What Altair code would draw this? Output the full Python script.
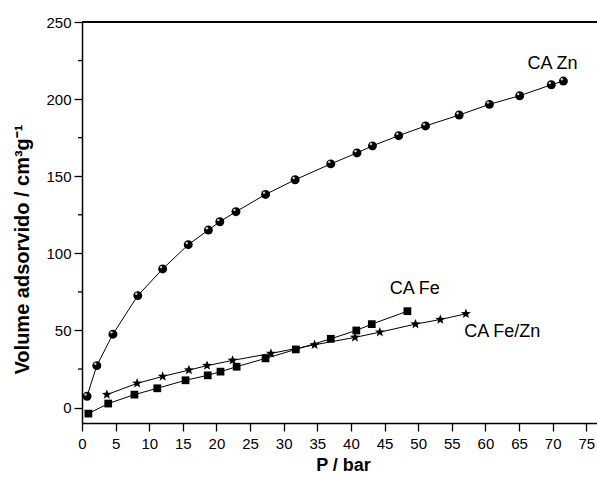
import altair as alt
import pandas as pd

zn_p = [0.75, 2.2, 4.6, 8.3, 12.0, 15.8, 18.8, 20.5, 22.9, 27.3, 31.7, 37.0, 40.9, 43.2, 47.1, 51.1, 56.1, 60.6, 65.1, 69.8, 71.6]
zn_v = [7.3, 27.2, 47.6, 72.6, 89.9, 105.6, 115.1, 120.5, 127.0, 138.2, 147.7, 158.0, 165.1, 169.7, 176.3, 182.6, 189.7, 196.6, 202.2, 209.3, 211.7]

fe_p = [0.95, 3.9, 7.8, 11.2, 15.4, 18.7, 20.6, 23.0, 27.3, 31.8, 37.0, 40.8, 43.1, 48.4]
fe_v = [-3.9, 2.6, 8.4, 12.5, 17.7, 20.9, 23.3, 26.5, 31.9, 37.7, 44.6, 50.0, 54.1, 62.5]

fezn_p = [3.7, 8.2, 12.0, 15.9, 18.6, 22.4, 28.1, 34.6, 40.6, 44.3, 49.6, 53.3, 57.1]
fezn_v = [8.4, 15.7, 20.2, 24.3, 27.2, 30.6, 35.1, 40.7, 45.5, 48.9, 54.1, 57.1, 60.8]

labels = ["CA Zn", "CA Fe", "CA Fe/Zn"]
label_p = [70.0, 49.5, 62.5]
label_v = [223.0, 77.0, 49.0]

x_ticks = list(range(0, 80, 5))
y_major = [0, 50, 100, 150, 200, 250]
y_minor = [25, 75, 125, 175, 225]

FONT = "Liberation Sans"
W, H = 515, 401
STAR = ("M0,-1L0.247,-0.34L0.951,-0.309L0.399,0.13L0.588,0.809L0,0.42"
        "L-0.588,0.809L-0.399,0.13L-0.951,-0.309L-0.247,-0.34Z")

def frame(name, p, v):
    return pd.DataFrame({"series": name, "P": p, "V": v, "i": list(range(len(p)))})

df = pd.concat([frame("CA Zn", zn_p, zn_v), frame("CA Fe", fe_p, fe_v),
                frame("CA Fe/Zn", fezn_p, fezn_v)], ignore_index=True)
lab = pd.DataFrame({"label": labels, "P": label_p, "V": label_v})
minor_df = pd.DataFrame({"V": y_minor})

xscale = alt.Scale(domain=[0, 76.6], nice=False, zero=False)
yscale = alt.Scale(domain=[-10, 250], nice=False, zero=False)

xaxis = alt.Axis(values=x_ticks, title="P / bar", grid=False, tickSize=8, tickWidth=1.3,
                 domainWidth=1.5, domainColor="black", tickColor="black",
                 labelFont=FONT, labelFontSize=15, labelColor="black", labelPadding=5,
                 titleFont=FONT, titleFontSize=18, titleFontWeight="bold", titleColor="black",
                 titleX=261, titleY=42, titleBaseline="middle", titleAlign="center", labelFlush=False)
yaxis = alt.Axis(values=y_major, title="Volume adsorvido / cm³g⁻¹", grid=False, tickSize=8, tickWidth=1.3,
                 domainWidth=1.5, domainColor="black", tickColor="black",
                 labelFont=FONT, labelFontSize=15, labelColor="black", labelPadding=3,
                 titleFont=FONT, titleFontSize=20, titleFontWeight="bold", titleColor="black",
                 titleX=-60, titleY=227, titleBaseline="middle", titleAlign="center", titleAngle=270,
                 labelFlush=False)

X = alt.X("P:Q", scale=xscale, axis=xaxis)
Y = alt.Y("V:Q", scale=yscale, axis=yaxis)

lines = alt.Chart(df).mark_line(color="black", strokeWidth=1).encode(
    x=X, y=Y, detail="series:N", order="i:Q")

spheres = alt.Chart(df[df.series == "CA Zn"]).mark_point(
    shape="circle", filled=True, color="black", size=80, opacity=1).encode(x=X, y=Y)
shine = alt.Chart(df[df.series == "CA Zn"]).mark_point(
    shape="circle", filled=True, color="#cccccc", size=6, opacity=1, xOffset=-1.5, yOffset=-1.8).encode(x=X, y=Y)
squares = alt.Chart(df[df.series == "CA Fe"]).mark_point(
    shape="square", filled=True, color="black", size=60, opacity=1).encode(x=X, y=Y)
stars = alt.Chart(df[df.series == "CA Fe/Zn"]).mark_point(
    shape=STAR, filled=True, color="black", size=110, opacity=1).encode(x=X, y=Y)

texts = alt.Chart(lab).mark_text(font=FONT, fontSize=18, color="black", align="center", baseline="middle").encode(
    x=X, y=Y, text="label:N")

minor = alt.Chart(minor_df).mark_rule(color="black", strokeWidth=1.3).encode(
    y=Y, x=alt.value(-4), x2=alt.value(0))

top = alt.Chart(lab).mark_rule(color="black", strokeWidth=1.5).encode(
    x=alt.value(0), x2=alt.value(W), y=alt.value(0))

chart = alt.layer(lines, spheres, shine, squares, stars, texts, minor, top).properties(
    width=W, height=H,
    autosize=alt.AutoSizeParams(type="none"),
    padding={"left": 82, "top": 22, "right": 0, "bottom": 60},
).configure_view(stroke=None).configure(background="white")

chart.save("out.html", embed_options={"renderer": "svg", "actions": False})
